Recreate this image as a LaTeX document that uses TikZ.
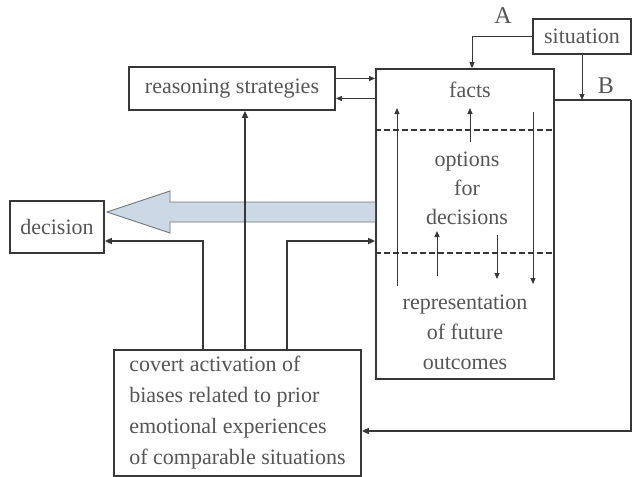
\documentclass[tikz,border=0pt]{standalone}
\usepackage{fontspec}
\setmainfont{Liberation Serif}
\usepackage{tikz}
\usetikzlibrary{arrows.meta}
\definecolor{inkgray}{RGB}{55,55,55}
\definecolor{textgray}{RGB}{85,85,85}
\definecolor{arrowblue}{RGB}{204,216,230}
\tikzset{
	box/.style={rectangle, draw=inkgray, line width=1.8pt, text=textgray, inner sep=0pt},
	txt/.style={text=textgray, inner sep=0pt, font=\fontsize{22}{30}\selectfont},
	thinarrow/.style={draw=inkgray, line width=1pt, -{Triangle[length=6pt,width=5pt]}},
	thickarrow/.style={draw=inkgray, line width=2.8pt, -{Triangle[length=7pt,width=6pt]}},
	divider/.style={draw=inkgray, line width=1.4pt, dash pattern=on 6pt off 3pt}
}

\begin{document}
\begin{tikzpicture}[x=1pt,y=-1pt]
		\useasboundingbox (0,0) rectangle (633,477);
		
		% Caixas
		\node[box, minimum width=178pt, minimum height=310pt] (main) at (465,224) {};
		\node[box, minimum width=98pt, minimum height=35pt, font=\fontsize{22}{30}\selectfont] (situation) at (582,36.5) {situation};
		\node[box, minimum width=206pt, minimum height=43pt, font=\fontsize{22}{30}\selectfont] (reasoning) at (232,88.5) {reasoning strategies};
		\node[box, minimum width=94pt, minimum height=52pt, font=\fontsize{22}{30}\selectfont] (decision) at (57,227) {decision};
		\node[box, minimum width=247pt, minimum height=126pt, align=left, font=\fontsize{22}{31}\selectfont] (covert) at (237.5,413)
			{covert activation of\\biases related to prior\\emotional experiences\\of comparable situations};
		
		% Seta grande
		\fill[arrowblue] (main.west |- 0,202) -- (170,202) -- (170,191) -- (107,212) -- (170,233) -- (170,222) -- (main.west |- 0,222) -- cycle;
		\draw[inkgray!70, line width=0.9pt] (main.west |- 0,202) -- (170,202) -- (170,191) -- (107,212) -- (170,233) -- (170,222) -- (main.west |- 0,222);
		
		% Textos da caixa principal
		\node[txt] (facts) at (470,90) {facts};
		\node[txt, align=center, font=\fontsize{22}{29}\selectfont] (options) at (467,188) {options\\for\\decisions};
		\node[txt, align=center, font=\fontsize{22}{30}\selectfont] (outcomes) at (465,332) {representation\\of future\\outcomes};
		\draw[divider] (main.west |- 0,130) -- (main.east |- 0,130);
		\draw[divider] (main.west |- 0,253) -- (main.east |- 0,253);
		
		% Setas internas
		\coordinate (upA) at (397,286);
		\coordinate (upB) at (470,142);
		\coordinate (downA) at (533,112);
		\coordinate (upC) at (437,276);
		\coordinate (downB) at (497,235);
		\draw[thinarrow] (upA) -- (397,108);
		\draw[thinarrow] (upB) -- (470,108);
		\draw[thinarrow] (downA) -- (533,284);
		\draw[thinarrow] (upC) -- (437,231);
		\draw[thinarrow] (downB) -- (497,279);
		
		% A e B
		\coordinate (bEnd) at (631,100);
		\coordinate (loop) at (631,431);
		\draw[thinarrow] (situation.west) -| ([xshift=7pt]main.north);
		\node[inner sep=0pt, text=textgray, font=\fontsize{24}{24}\selectfont] (labelA) at (503,16) {A};
		\draw[inkgray, line width=1.8pt] (main.east |- bEnd) -- (bEnd);
		\draw[thinarrow] (situation.south) -- (situation.south |- bEnd);
		\node[inner sep=0pt, text=textgray, font=\fontsize{24}{24}\selectfont] (labelB) at (606,86) {B};
		\draw[thickarrow] (bEnd) -- (loop) -- (covert.east |- loop);
		
		% Estrategias
		\draw[thinarrow] ([yshift=10pt]reasoning.east) -- ([yshift=10pt]reasoning.east -| main.west);
		\draw[thinarrow] ([yshift=-10pt]reasoning.east -| main.west) -- ([yshift=-10pt]reasoning.east);
		
		% Vieses
		\coordinate (colL) at (203,0);
		\coordinate (colM) at (245,0);
		\coordinate (colR) at (287,0);
		\coordinate (rowY) at (0,241);
		\draw[thickarrow] (covert.north -| colM) -- (reasoning.south -| colM);
		\draw[thickarrow] (covert.north -| colL) -- (colL |- rowY) -- (decision.east |- rowY);
		\draw[thickarrow] (covert.north -| colR) -- (colR |- rowY) -- (main.west |- rowY);
		
	\end{tikzpicture}
\end{document}
